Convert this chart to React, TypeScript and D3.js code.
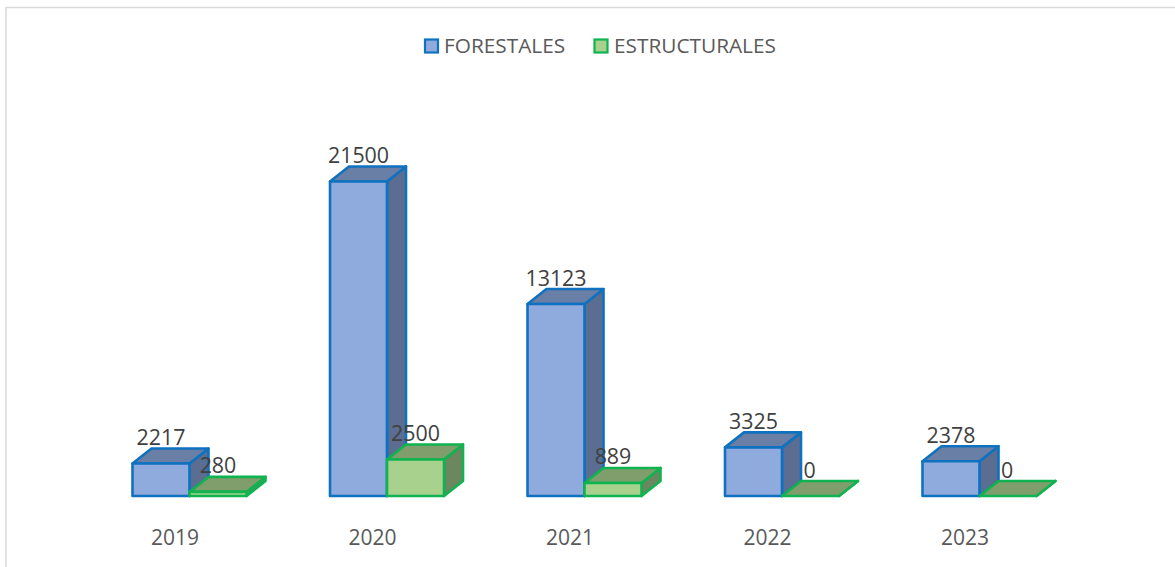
import React from "react";
import * as d3 from "d3";

const years = ["2019", "2020", "2021", "2022", "2023"];
const forestales = [2217, 21500, 13123, 3325, 2378];
const estructurales = [280, 2500, 889, 0, 0];
const seriesNames = ["FORESTALES", "ESTRUCTURALES"];

const W = 1175, H = 567;
const baseY = 496;
const DX = 19, DY = 15;
const x = d3.scaleBand().domain(years).range([84, 1071.5]).paddingInner(0).paddingOuter(0);
const y = d3.scaleLinear().domain([0, 21500]).range([baseY, 181.5]);
const barW = 57;
const FONT = "'Open Sans', sans-serif";

const palettes = [
  { front: "#8faadc", side: "#5b6d90", top: "#6a7fa6", stroke: "#0f72c0" },
  { front: "#a9d18e", side: "#6c8660", top: "#7f9e6c", stroke: "#0fb350" },
];

function Bar3D({ x0, v, p }: { x0: number; v: number; p: typeof palettes[0] }) {
  const t = y(v);
  const x1 = x0 + barW;
  const pts = (a: number[][]) => a.map((q) => q.join(",")).join(" ");
  const common = { stroke: p.stroke, strokeWidth: 2.6, strokeLinejoin: "round" as const };
  return (
    <g>
      <polygon points={pts([[x1, t], [x1 + DX, t - DY], [x1 + DX, baseY - DY], [x1, baseY]])} fill={p.side} {...common} />
      <polygon points={pts([[x0, t], [x0 + DX, t - DY], [x1 + DX, t - DY], [x1, t]])} fill={p.top} {...common} />
      <rect x={x0} y={t} width={barW} height={baseY - t} fill={p.front} {...common} />
      <text x={x0 + barW / 2 - (v === 0 ? 1 : 0)} y={t - 18.5} textAnchor="middle" fontFamily={FONT} fontSize={21.4} fill="#404040">
        {v}
      </text>
    </g>
  );
}

export default function App() {
  return (
    <svg width={W} height={H} viewBox={`0 0 ${W} ${H}`} style={{ position: "absolute", left: 0, top: 0, background: "#fff" }}>
      <path d={`M6 ${H}V7.5H${W}`} fill="none" stroke="#d9d9d9" strokeWidth={1.5} />
      {[0, 1].map((i) => {
        const lx = i === 0 ? 425 : 594.5;
        const tx = i === 0 ? 444 : 614;
        return (
          <g key={i}>
            <rect x={lx} y={39.5} width={13} height={13} fill={palettes[i].front} stroke={palettes[i].stroke} strokeWidth={2.2} />
            <text x={tx} y={53} fontFamily={FONT} fontSize={20.8} fill="#595959">{seriesNames[i]}</text>
          </g>
        );
      })}
      {years.map((yr, i) => {
        const x0 = (x(yr) as number) + 48.5;
        return (
          <g key={yr}>
            <text x={x0 + 42.5} y={545} textAnchor="middle" fontFamily={FONT} fontSize={21} fill="#595959">{yr}</text>
            <Bar3D x0={x0} v={forestales[i]} p={palettes[0]} />
            <Bar3D x0={x0 + barW} v={estructurales[i]} p={palettes[1]} />
          </g>
        );
      })}
    </svg>
  );
}
